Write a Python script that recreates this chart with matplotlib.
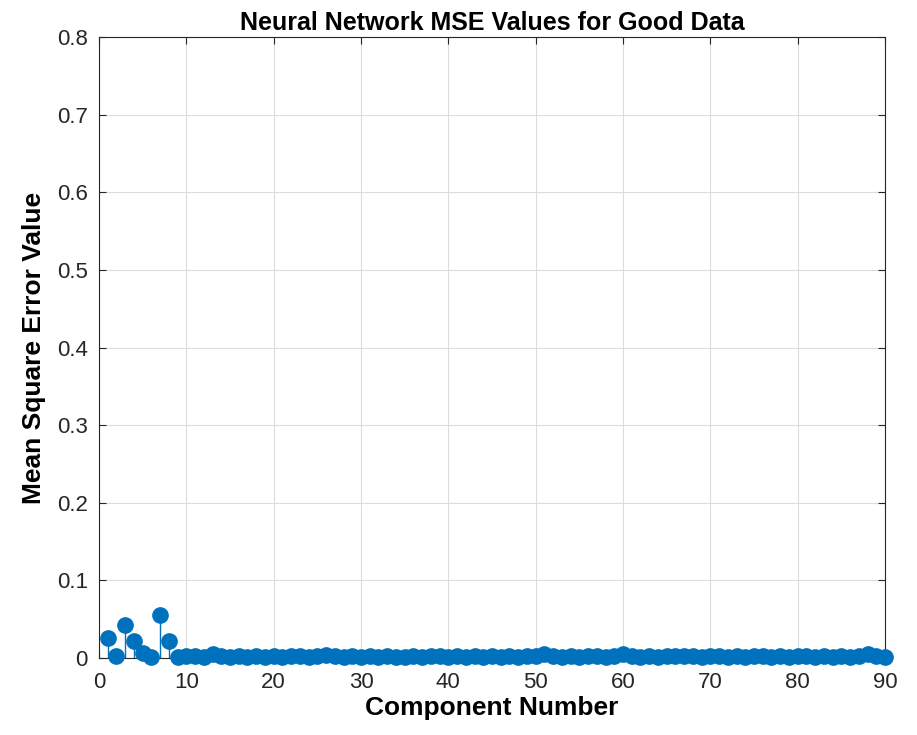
import matplotlib.pyplot as plt
import numpy as np

plt.rcParams['font.family'] = ['Liberation Sans', 'DejaVu Sans']

# 组件编号与对应的MSE
component = np.arange(1, 91)
mse = [0.026, 0.002, 0.043, 0.022, 0.006, 0.001, 0.056, 0.022, 0.001, 0.002,
       0.002, 0.001, 0.005, 0.002, 0.001, 0.002, 0.001, 0.002, 0.001, 0.002,
       0.001, 0.003, 0.002, 0.001, 0.002, 0.004, 0.002, 0.001, 0.002, 0.001,
       0.002, 0.001, 0.002, 0.001, 0.001, 0.002, 0.001, 0.002, 0.002, 0.001,
       0.002, 0.001, 0.002, 0.001, 0.002, 0.001, 0.002, 0.001, 0.002, 0.002,
       0.005, 0.002, 0.001, 0.002, 0.001, 0.002, 0.002, 0.001, 0.002, 0.005,
       0.002, 0.001, 0.002, 0.001, 0.002, 0.002, 0.003, 0.002, 0.001, 0.002,
       0.002, 0.001, 0.002, 0.001, 0.002, 0.002, 0.001, 0.002, 0.001, 0.002,
       0.002, 0.001, 0.002, 0.001, 0.002, 0.001, 0.002, 0.005, 0.002, 0.001]

fig = plt.figure(figsize=(9.17, 7.35), dpi=100)
ax = fig.add_axes([99 / 917, 1 - 658 / 735, 786 / 917, 621 / 735])

color = '#0072BD'
markerline, stemlines, baseline = ax.stem(component, mse, basefmt=' ')
plt.setp(markerline, color=color, markersize=11, clip_on=False, zorder=3)
plt.setp(stemlines, color=color, linewidth=1)

ax.set_xlim(0, 90)
ax.set_ylim(0, 0.8)
ax.set_xticks(np.arange(0, 91, 10))
ax.set_yticks(np.arange(0, 0.81, 0.1))
ax.set_yticklabels(['0', '0.1', '0.2', '0.3', '0.4', '0.5', '0.6', '0.7', '0.8'])
ax.grid(True, color='#dcdcdc', linewidth=0.8)
ax.set_axisbelow(True)
ax.tick_params(direction='in', labelsize=16, top=True, right=True, length=5,
               colors='#262626', labelcolor='#262626')
ax.tick_params(axis='x', pad=10)
ax.tick_params(axis='y', pad=8)
for s in ax.spines.values():
    s.set_color('#262626')
    s.set_linewidth(0.8)

ax.set_title('Neural Network MSE Values for Good Data', fontsize=18, fontweight='bold', pad=5)
ax.set_xlabel('Component Number', fontsize=19, fontweight='bold', labelpad=2)
ax.set_ylabel('Mean Square Error Value', fontsize=19, fontweight='bold', labelpad=8)

fig.savefig('out.png')
